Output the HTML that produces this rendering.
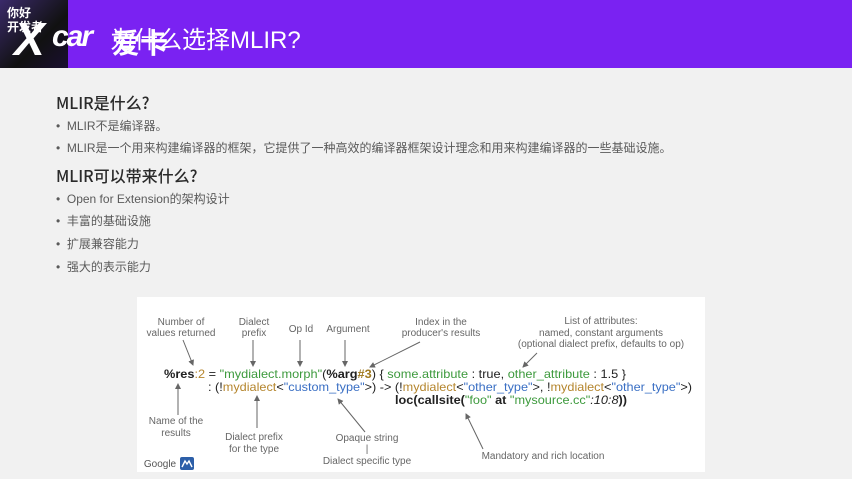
<!DOCTYPE html>
<html><head><meta charset="utf-8"><style>
*{margin:0;padding:0;box-sizing:border-box}
body{width:852px;height:479px;overflow:hidden;background:#f1f1f1;font-family:"Liberation Sans","Noto Sans CJK SC",sans-serif;position:relative}
.hdr{position:absolute;left:0;top:0;width:852px;height:68px;background:#7a22f2}
.logo{position:absolute;left:0;top:0;width:68px;height:68px;background:linear-gradient(135deg,#3a2a6a,#111 60%,#1a1030)}
.t{position:absolute;color:#fff;font-size:24px;left:110px;top:20px;white-space:nowrap}
.abs{position:absolute;white-space:nowrap}
.h{font-size:16px;color:#2a2a2a;font-weight:500;left:56px;font-family:"Noto Sans CJK SC","Liberation Sans",sans-serif}
.b{font-size:12px;color:#5a5a5a;left:56px}
</style></head><body>
<div class="hdr"></div>
<div class="logo"></div>
<div class="abs" style="left:7px;top:6px;color:#fff;font-size:12px;font-weight:bold;line-height:14px">你好<br>开发者</div>
<div class="t">为什么选择MLIR?</div>
<div class="abs" style="left:14px;top:12px;color:#fff;font-size:46px;font-weight:bold;font-style:italic">X</div>
<div class="abs" style="left:52px;top:20px;color:#fff;font-size:30px;font-weight:bold;font-style:italic;letter-spacing:-2px">car</div>
<div class="abs" style="left:112px;top:22px;color:#fff;font-size:28px;font-weight:bold">爱卡</div>

<div class="abs h" style="top:90px">MLIR是什么?</div>
<div class="abs b" style="top:117px">•&nbsp; MLIR不是编译器。</div>
<div class="abs b" style="top:139px">•&nbsp; MLIR是一个用来构建编译器的框架，它提供了一种高效的编译器框架设计理念和用来构建编译器的一些基础设施。</div>
<div class="abs h" style="top:163px">MLIR可以带来什么?</div>
<div class="abs b" style="top:190px">•&nbsp; Open for Extension的架构设计</div>
<div class="abs b" style="top:212px">•&nbsp; 丰富的基础设施</div>
<div class="abs b" style="top:235px">•&nbsp; 扩展兼容能力</div>
<div class="abs b" style="top:258px">•&nbsp; 强大的表示能力</div>

<svg class="abs" style="left:0;top:0" width="852" height="479">
<defs><marker id="a" markerWidth="6" markerHeight="6" refX="5" refY="3" orient="auto"><path d="M0,0L6,3L0,6z" fill="#666"/></marker></defs>
<rect x="137" y="297" width="568" height="175" fill="#fff"/>
<g font-family="Liberation Sans,sans-serif" font-size="10" fill="#666" text-anchor="middle">
<text x="181" y="325">Number of</text><text x="181" y="336">values returned</text>
<text x="254" y="325">Dialect</text><text x="254" y="336">prefix</text>
<text x="301" y="332">Op Id</text>
<text x="348" y="332">Argument</text>
<text x="441" y="325">Index in the</text><text x="441" y="336">producer's results</text>
<text x="601" y="324">List of attributes:</text><text x="601" y="336">named, constant arguments</text><text x="601" y="347">(optional dialect prefix, defaults to op)</text>
<text x="176" y="424">Name of the</text><text x="176" y="436">results</text>
<text x="254" y="440">Dialect prefix</text><text x="254" y="452">for the type</text>
<text x="367" y="441">Opaque string</text><text x="367" y="452">|</text><text x="367" y="464">Dialect specific type</text>
<text x="543" y="459">Mandatory and rich location</text>
<text x="160" y="467" fill="#555" font-size="10">Google</text>
</g>
<rect x="180" y="457" width="14" height="13" rx="2" fill="#2d5fa8"/>
<path d="M182,467l3-6l2,3l2-3l3,6" stroke="#fff" stroke-width="1.4" fill="none"/>
<g stroke="#666" stroke-width="1" marker-end="url(#a)">
<line x1="183" y1="340" x2="193" y2="365"/>
<line x1="253" y1="340" x2="253" y2="366"/>
<line x1="300" y1="340" x2="300" y2="366"/>
<line x1="345" y1="340" x2="345" y2="366"/>
<line x1="420" y1="342" x2="370" y2="367"/>
<line x1="537" y1="353" x2="523" y2="367"/>
<line x1="178" y1="415" x2="178" y2="384"/>
<line x1="257" y1="428" x2="257" y2="396"/>
<line x1="365" y1="432" x2="338" y2="399"/>
<line x1="483" y1="449" x2="466" y2="414"/>
</g>
<g font-family="Liberation Sans,sans-serif" font-size="12" fill="#222">
<text x="164" y="378" textLength="462" lengthAdjust="spacingAndGlyphs"><tspan font-weight="bold">%res</tspan><tspan fill="#b5862e">:2</tspan> = <tspan fill="#3d9a3d">"mydialect.morph"</tspan>(<tspan font-weight="bold">%arg</tspan><tspan fill="#a07a20" font-weight="bold">#3</tspan>) { <tspan fill="#3d9a3d">some.attribute</tspan> : true, <tspan fill="#3d9a3d">other_attribute</tspan> : 1.5 }</text>
<text x="208" y="391" textLength="484" lengthAdjust="spacingAndGlyphs">: (!<tspan fill="#b5862e">mydialect</tspan>&lt;<tspan fill="#3a6fc4">"custom_type"</tspan>&gt;) -&gt; (!<tspan fill="#b5862e">mydialect</tspan>&lt;<tspan fill="#3a6fc4">"other_type"</tspan>&gt;, !<tspan fill="#b5862e">mydialect</tspan>&lt;<tspan fill="#3a6fc4">"other_type"</tspan>&gt;)</text>
<text x="395" y="404" textLength="232" lengthAdjust="spacingAndGlyphs" font-weight="bold">loc(callsite(<tspan fill="#3d9a3d" font-weight="normal">"foo"</tspan> at <tspan fill="#3d9a3d" font-weight="normal">"mysource.cc"</tspan><tspan font-weight="normal" font-style="italic">:10:8</tspan>))</text>
</g>
</svg>
</body></html>
